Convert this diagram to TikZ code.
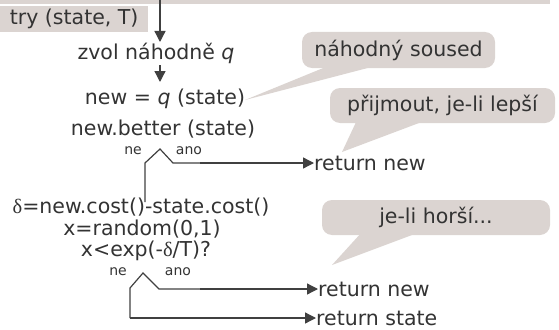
\documentclass[tikz,border=0pt]{standalone}
\usepackage{fontspec}
\setmainfont{DejaVu Sans}
\newfontfamily\grk{Liberation Serif}
\usetikzlibrary{arrows.meta}
\definecolor{bub}{RGB}{219,212,209}
\definecolor{txt}{RGB}{51,51,51}
\definecolor{ln}{RGB}{64,64,64}
\begin{document}
\begin{tikzpicture}[x=1pt,y=-1pt,
  lbl/.style={text=txt,font=\fontsize{20.5}{24}\selectfont,inner sep=0pt},
  small/.style={text=txt,font=\fontsize{14}{16}\selectfont,inner sep=0pt},
  bubble/.style={fill=bub,rounded corners=10pt,inner sep=0pt,text=txt,font=\fontsize{20.5}{24}\selectfont},
  arr/.style={draw=ln,line width=1.3pt,-{Triangle[length=11pt,width=11pt]}},
  br/.style={draw=ln,line width=1.2pt}]
\useasboundingbox (0,0) rectangle (559,329);
% top strip and title box
\fill[bub] (0,0) rectangle (550,4.5);
\node[bubble,rounded corners=0pt,minimum width=148pt,minimum height=26pt,anchor=north west] (try) at (0,6) {try (state, T)};
% bubbles
\fill[bub] (333,64) -- (245,100) -- (383,64) -- cycle;
\node[bubble,minimum width=193pt,minimum height=36pt] (b1) at (398.5,50) {náhodný soused};
\fill[bub] (357,120) -- (342,152) -- (427,120) -- cycle;
\node[bubble,minimum width=225pt,minimum height=35pt] (b2) at (442.5,105.5) {přijmout, je-li lepší};
\fill[bub] (362,232) -- (332,265) -- (420,232) -- cycle;
\node[bubble,minimum width=228pt,minimum height=35pt] (b3) at (436,217.5) {je-li horší...};
% main flow
\node[lbl] (zvol) at (156,53) {zvol náhodně \textit{q}};
\node[lbl] (newq) at (165,99) {new = \textit{q} (state)};
\node[lbl] (better) at (163,129) {new.better (state)};
\node[small] (ne1) at (133,151) {ne};
\node[small] (ano1) at (189,151) {ano};
\node[lbl,anchor=west] (ret1) at (314,163) {return new};
\node[lbl] (delta) at (141,207) {{\grk δ}=new.cost()-state.cost()};
\node[lbl] (rnd) at (142,229) {x=random(0,1)};
\node[lbl] (cmp) at (146,251) {x<exp(-{\grk δ}/T)?};
\node[small] (ne2) at (118,272) {ne};
\node[small] (ano2) at (178,272) {ano};
\node[lbl,anchor=west] (ret2) at (318,289) {return new};
\node[lbl,anchor=west] (ret3) at (316,318) {return state};
% connectors
\coordinate (s1) at (160,0);
\coordinate (e1) at (160,42);
\draw[arr] (s1) -- (e1);
\coordinate (s2) at (160,65);
\coordinate (e2) at (160,82);
\draw[arr] (s2) -- (e2);
\coordinate (d1) at (145,202);
\draw[br] (d1) -- (145,163) -- (160,149) -- (173,163) -- (200,163);
\draw[arr] (200,163) -- (ret1.west);
\coordinate (d2) at (130,318);
\draw[br] (d2) -- (130,288) -- (143,273) -- (159,289) -- (200,289);
\draw[arr] (200,289) -- (ret2.west);
\draw[arr] (d2) -- (ret3.west);
\end{tikzpicture}
\end{document}
